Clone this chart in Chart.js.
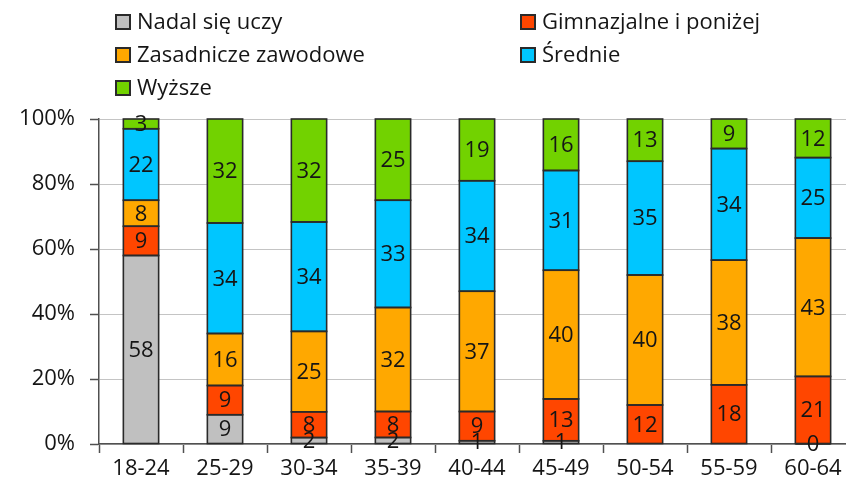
<!DOCTYPE html>
<html>
<head>
<meta charset="utf-8">
<script src="https://cdn.jsdelivr.net/npm/chart.js@4/dist/chart.umd.min.js"></script>
<style>
  html, body { margin: 0; padding: 0; background: #fff; overflow: hidden; }
  canvas { display: block; }
</style>
</head>
<body>
<canvas id="chart" width="860" height="489"></canvas>
<script>
// age groups
var categories = ['18-24', '25-29', '30-34', '35-39', '40-44', '45-49', '50-54', '55-59', '60-64'];
var seriesNames = ['Nadal się uczy', 'Gimnazjalne i poniżej', 'Zasadnicze zawodowe', 'Średnie', 'Wyższe'];
// values in %, as printed on the bars
var nadal = [58, 9, 2, 2, 1, 1, null, null, 0];
var gimn = [9, 9, 8, 8, 9, 13, 12, 18, 21];
var zasad = [8, 16, 25, 32, 37, 40, 40, 38, 43];
var srednie = [22, 34, 34, 33, 34, 31, 35, 34, 25];
var wyzsze = [3, 32, 32, 25, 19, 16, 13, 9, 12];
var yTicks = [0, 20, 40, 60, 80, 100];

var colors = ['#c0c0c0', '#ff4600', '#ffa800', '#00c6ff', '#72d200'];
var series = [nadal, gimn, zasad, srednie, wyzsze];
var FONT = "'Open Sans', sans-serif";

// 100% stacked: scale each column by its total
var totals = categories.map(function (c, i) {
  var s = 0;
  series.forEach(function (arr) { s += arr[i] || 0; });
  return s;
});

var datasets = series.map(function (arr, k) {
  return {
    label: seriesNames[k],
    rawValues: arr,
    data: arr.map(function (v, i) { return v === null ? null : v / totals[i] * 100; }),
    backgroundColor: colors[k],
    borderWidth: 0,
    barPercentage: 0.42,
    categoryPercentage: 1
  };
});

// dark outline round every segment, then the number in its middle
var segLabels = {
  id: 'segLabels',
  afterDatasetsDraw: function (chart) {
    var ctx = chart.ctx;
    ctx.save();
    ctx.strokeStyle = '#2a2a2a';
    ctx.lineWidth = 1.6;
    chart.data.datasets.forEach(function (ds, k) {
      chart.getDatasetMeta(k).data.forEach(function (bar, i) {
        if (ds.rawValues[i] === null) return;
        var top = Math.min(bar.y, bar.base);
        ctx.strokeRect(bar.x - bar.width / 2, top, bar.width, Math.abs(bar.base - bar.y));
      });
    });
    ctx.font = '22px ' + FONT;
    ctx.fillStyle = '#151515';
    ctx.textAlign = 'center';
    ctx.textBaseline = 'middle';
    chart.data.datasets.forEach(function (ds, k) {
      chart.getDatasetMeta(k).data.forEach(function (bar, i) {
        var v = ds.rawValues[i];
        if (v === null) return;
        ctx.fillText(String(v), bar.x, (bar.y + bar.base) / 2 + 1);
      });
    });
    ctx.restore();
  }
};

// two-column legend above the plot
var gridLegend = {
  id: 'gridLegend',
  afterDraw: function (chart, args, opts) {
    var ctx = chart.ctx;
    ctx.save();
    ctx.font = '22px ' + FONT;
    ctx.textBaseline = 'middle';
    chart.data.datasets.forEach(function (ds, k) {
      var x = opts.colX[k % 2];
      var y = opts.rowY[Math.floor(k / 2)];
      ctx.fillStyle = ds.backgroundColor;
      ctx.fillRect(x, y - 7, 14, 14);
      ctx.strokeStyle = '#2a2a2a';
      ctx.lineWidth = 2;
      ctx.strokeRect(x, y - 7, 14, 14);
      ctx.fillStyle = '#151515';
      ctx.fillText(ds.label, x + 21, y + 1);
    });
    ctx.restore();
  }
};

var config = {
  type: 'bar',
  data: { labels: categories, datasets: datasets },
  options: {
    responsive: false,
    animation: false,
    layout: { padding: { top: 119, left: 0, right: 5, bottom: 0 } },
    plugins: {
      legend: { display: false },
      tooltip: { enabled: false },
      gridLegend: { colX: [116, 521], rowY: [22, 55, 88] }
    },
    scales: {
      x: {
        stacked: true,
        afterFit: function (s) { s.height = 45; },
        grid: {
          offset: true,
          drawOnChartArea: false,
          drawTicks: true,
          tickLength: 9,
          tickColor: '#505050',
          tickWidth: 1.5
        },
        border: { color: '#505050', width: 1.5 },
        ticks: { color: '#151515', font: { family: FONT, size: 22 }, padding: 3, maxRotation: 0 }
      },
      y: {
        stacked: true,
        min: 0,
        max: 100,
        afterFit: function (s) { s.width = 99; },
        afterBuildTicks: function (s) { s.ticks = yTicks.map(function (v) { return { value: v }; }); },
        grid: {
          color: '#c4c4c4',
          lineWidth: 1,
          borderDash: [4, 3],
          drawTicks: true,
          tickLength: 9,
          tickColor: '#505050',
          tickWidth: 1.5,
          tickBorderDash: []
        },
        border: { color: '#505050', width: 1.5 },
        ticks: {
          color: '#151515',
          font: { family: FONT, size: 22 },
          padding: 15,
          callback: function (v) { return v + '%'; }
        }
      }
    }
  },
  plugins: [segLabels, gridLegend]
};

var chart = new Chart(document.getElementById('chart'), config);
</script>
</body>
</html>
